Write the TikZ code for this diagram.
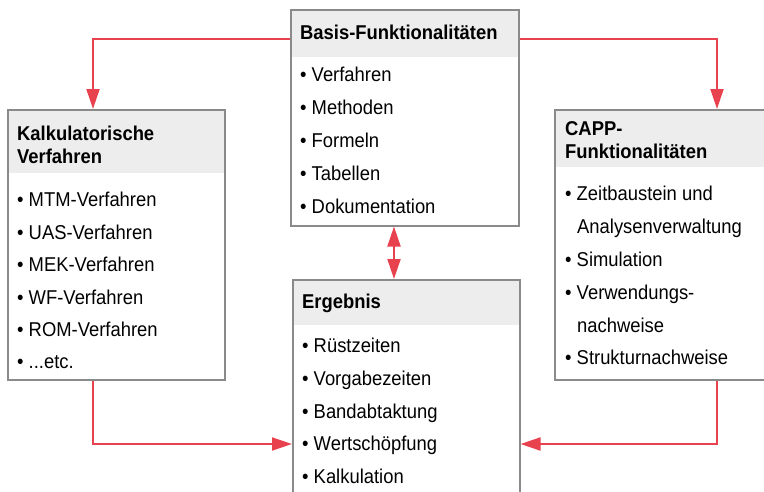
\documentclass[tikz,border=0pt]{standalone}
\usepackage{fontspec}
\setmainfont[FakeStretch=0.92]{Liberation Sans}
\usetikzlibrary{arrows.meta,calc}
\definecolor{rd}{HTML}{E8424F}
\definecolor{bd}{HTML}{8A8A8A}
\definecolor{hd}{HTML}{EDEDED}
\begin{document}
\begin{tikzpicture}[x=1pt,y=-1pt,
  box/.style={draw=bd,line width=1.5pt,inner sep=0pt,anchor=north west},
  hdr/.style={fill=hd,inner sep=0pt,anchor=north west},
  txt/.style={anchor=base west,inner sep=0pt,font=\fontsize{20}{24}\selectfont},
  ttl/.style={txt,font=\fontsize{20}{24}\selectfont\bfseries},
  conn/.style={draw=rd,line width=2pt,-{Triangle[length=20pt,width=13pt]}},
  dconn/.style={draw=rd,line width=2pt,{Triangle[length=20pt,width=13pt]}-{Triangle[length=20pt,width=13pt]}}]
\useasboundingbox[fill=white] (0,0) rectangle (764,491);
% Basis
\node[hdr,minimum width=228pt,minimum height=48pt] (basisH) at (290,9) {};
\node[box,minimum width=228pt,minimum height=216pt] (basis) at (290,9) {};
\node[ttl] (b0) at (300,39) {Basis-Funktionalitäten};
\node[txt] (b1) at (300,81) {• Verfahren};
\node[txt] (b2) at (300,114) {• Methoden};
\node[txt] (b3) at (300,147) {• Formeln};
\node[txt] (b4) at (300,180) {• Tabellen};
\node[txt] (b5) at (300,213) {• Dokumentation};
% Kalkulatorische
\node[hdr,minimum width=217pt,minimum height=64pt] (kalkH) at (7,109) {};
\node[box,minimum width=217pt,minimum height=270pt] (kalk) at (7,109) {};
\node[ttl] (k0) at (17,140) {Kalkulatorische};
\node[ttl] (k0b) at (17,163) {Verfahren};
\node[txt] (k1) at (17,206) {• MTM-Verfahren};
\node[txt] (k2) at (17,239) {• UAS-Verfahren};
\node[txt] (k3) at (17,271) {• MEK-Verfahren};
\node[txt] (k4) at (17,304) {• WF-Verfahren};
\node[txt] (k5) at (17,336) {• ROM-Verfahren};
\node[txt] (k6) at (17,368) {• ...etc.};
% CAPP (right edge lies outside the picture)
\node[hdr,minimum width=226pt,minimum height=58pt] (cappH) at (554,109) {};
\node[box,minimum width=226pt,minimum height=270pt] (capp) at (554,109) {};
\node[ttl] (c0) at (565,135) {CAPP-};
\node[ttl] (c0b) at (565,158) {Funktionalitäten};
\node[txt] (c1) at (565,200) {• Zeitbaustein und};
\node[txt] (c1b) at (577,233) {Analysenverwaltung};
\node[txt] (c2) at (565,266) {• Simulation};
\node[txt] (c3) at (565,299) {• Verwendungs-};
\node[txt] (c3b) at (577,332) {nachweise};
\node[txt] (c4) at (565,364) {• Strukturnachweise};
% Ergebnis
\node[hdr,minimum width=227pt,minimum height=46pt] (ergH) at (292,279) {};
\node[box,minimum width=227pt,minimum height=240pt] (erg) at (292,279) {};
\node[ttl] (e0) at (302,308) {Ergebnis};
\node[txt] (e1) at (302,352) {• Rüstzeiten};
\node[txt] (e2) at (302,385) {• Vorgabezeiten};
\node[txt] (e3) at (302,418) {• Bandabtaktung};
\node[txt] (e4) at (302,450) {• Wertschöpfung};
\node[txt] (e5) at (302,483) {• Kalkulation};
% connectors
\coordinate (ty) at (0,39);
\coordinate (lx) at (93,0);
\coordinate (rx) at (717,0);
\coordinate (mx) at (394,0);
\coordinate (ey) at (0,444);
\draw[conn] (basis.west |- ty) -| (kalk.north -| lx);
\draw[conn] (basis.east |- ty) -| (capp.north -| rx);
\draw[dconn] (basis.south -| mx) -- (erg.north -| mx);
\draw[conn] (kalk.south -| lx) |- (erg.west |- ey);
\draw[conn] (capp.south -| rx) |- (erg.east |- ey);
\end{tikzpicture}
\end{document}
